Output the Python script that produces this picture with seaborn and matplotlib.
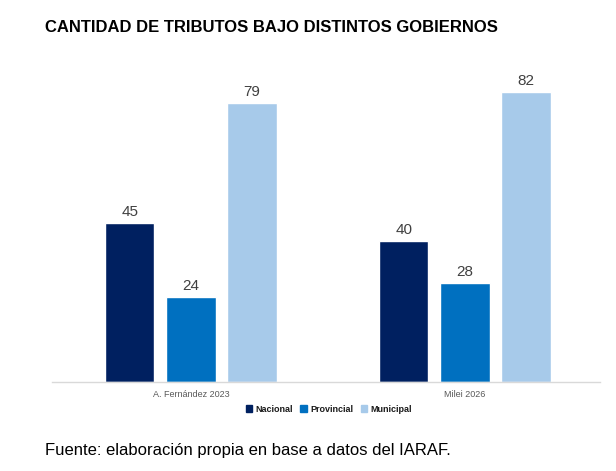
import numpy as np
import pandas as pd
import matplotlib
matplotlib.use('Agg')
import matplotlib.pyplot as plt
import seaborn as sns

# ─── Data ────────────────────────────────────────────────────────────────
gobiernos = ['A. Fernández 2023', 'Milei 2026']
niveles = ['Nacional', 'Provincial', 'Municipal']
nacional = [45, 40]
provincial = [24, 28]
municipal = [79, 82]
colores = ['#002060', '#0070C0', '#A7CAEA']

df = pd.DataFrame({
    'gobierno': gobiernos * 3,
    'nivel': [n for n in niveles for _ in gobiernos],
    'tributos': nacional + provincial + municipal,
})

sns.set_theme(style='white')
plt.rcParams['font.family'] = ['Liberation Sans', 'DejaVu Sans']

fig = plt.figure(figsize=(6.16, 4.71), dpi=100)
ax = fig.add_axes([0.0844, 0.189, 0.8896, 0.675])

sns.barplot(data=df, x='gobierno', y='tributos', hue='nivel', hue_order=niveles,
            palette=colores, width=0.67, gap=0.19, saturation=1, ax=ax, legend=False)

for cont in ax.containers:
    ax.bar_label(cont, fmt='%d', padding=3, fontsize=11, color='#404040')

ax.set_xlim(-0.507, 1.493)
ax.set_ylim(0, 90)
ax.set_xlabel('')
ax.set_ylabel('')
ax.set_yticks([])
ax.tick_params(axis='x', length=0, labelsize=6.5, labelcolor='#595959', pad=6)
for s in ['top', 'right', 'left']:
    ax.spines[s].set_visible(False)
ax.spines['bottom'].set_color('#D9D9D9')
ax.spines['bottom'].set_linewidth(1)

# ─── Legend ──────────────────────────────────────────────────────────────
handles = [plt.Rectangle((0, 0), 1, 1, color=c) for c in colores]
fig.legend(handles, niveles, loc='center', bbox_to_anchor=(0.534, 1 - 409 / 471),
           ncol=3, frameon=False, handlelength=0.7, handleheight=0.7,
           handletextpad=0.4, columnspacing=0.8,
           prop={'size': 6.5, 'weight': 'bold'}, labelcolor='#1a1a1a')

fig.text(45 / 616, 1 - 28 / 471, 'CANTIDAD DE TRIBUTOS BAJO DISTINTOS GOBIERNOS',
         fontsize=12, fontweight='bold', color='black', va='center', ha='left')
fig.text(45 / 616, 1 - 450 / 471, 'Fuente: elaboración propia en base a datos del IARAF.',
         fontsize=12, color='black', va='center', ha='left')

plt.savefig('out.png', dpi=100)
plt.close()
